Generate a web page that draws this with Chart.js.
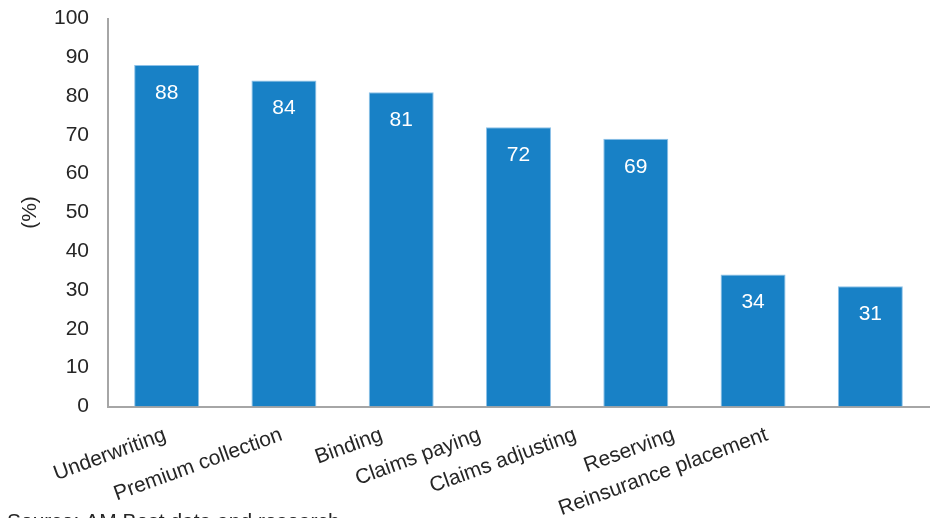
<!DOCTYPE html>
<html>
<head>
<meta charset="utf-8">
<script src="https://cdn.jsdelivr.net/npm/chart.js@4/dist/chart.umd.min.js"></script>
<style>
  html, body { margin: 0; padding: 0; background: #fff; overflow: hidden; }
  #wrap { position: relative; width: 932px; height: 518px; }
</style>
</head>
<body>
<div id="wrap"><canvas id="c" width="932" height="518"></canvas></div>
<script>
const categories = ["Underwriting", "Premium collection", "Binding", "Claims paying", "Claims adjusting", "Reserving", "Reinsurance placement"];
const values = [88, 84, 81, 72, 69, 34, 31];
const yTicks = [0, 10, 20, 30, 40, 50, 60, 70, 80, 90, 100];
const yTitle = "(%)";
const sourceNote = "Source: AM Best data and research";

const FONT = "'Liberation Sans', Arial, Helvetica, sans-serif";
const TEXT = "#262626";
const AXIS = "#a6a6a6";

// horizontal nudge for each rotated category label, relative to its tick
const labelShift = [-5, -6, -23, -42, -64, -83, -107];

const overlay = {
  id: 'overlay',
  afterDatasetsDraw(chart) {
    const ctx = chart.ctx;
    const meta = chart.getDatasetMeta(0);
    ctx.save();
    ctx.font = "21px " + FONT;
    ctx.fillStyle = "#ffffff";
    ctx.textAlign = "center";
    ctx.textBaseline = "middle";
    meta.data.forEach((bar, i) => {
      ctx.fillText(String(values[i]), bar.x, bar.y + 28);
    });
    ctx.restore();
  },
  afterDraw(chart) {
    const ctx = chart.ctx;
    const xs = chart.scales.x;
    ctx.save();
    ctx.font = "21px " + FONT;
    ctx.fillStyle = TEXT;
    ctx.textAlign = "right";
    ctx.textBaseline = "top";
    categories.forEach((c, i) => {
      const px = xs.getPixelForTick(i) + labelShift[i];
      const py = xs.top + 18;
      ctx.save();
      ctx.translate(px, py);
      ctx.rotate(-20 * Math.PI / 180);
      ctx.fillText(c, 0, 0);
      ctx.restore();
    });
    ctx.textAlign = "left";
    ctx.fillText(sourceNote, 7, 512);
    ctx.restore();
  }
};

new Chart(document.getElementById('c'), {
  type: 'bar',
  data: {
    labels: categories,
    datasets: [{
      data: values,
      backgroundColor: '#1881c6',
      borderColor: '#8cc1e8',
      borderWidth: 1,
      borderSkipped: 'bottom',
      barPercentage: 0.554,
      categoryPercentage: 1.0
    }]
  },
  options: {
    responsive: false,
    animation: false,
    devicePixelRatio: 1,
    layout: { padding: { top: 18.5, right: 3, left: 0, bottom: 0 } },
    plugins: { legend: { display: false }, tooltip: { enabled: false } },
    scales: {
      x: {
        grid: { display: false, drawTicks: false, tickLength: 0 },
        border: { display: true, color: AXIS, width: 2 },
        ticks: { display: false },
        afterFit: s => { s.height = 111.5; s.paddingLeft = 0; s.paddingRight = 0; }
      },
      y: {
        min: 0, max: 100,
        afterBuildTicks: s => { s.ticks = yTicks.map(v => ({ value: v })); },
        grid: { display: false, drawTicks: false, tickLength: 0 },
        border: { display: true, color: AXIS, width: 2 },
        ticks: { font: { size: 21, family: FONT }, color: TEXT, padding: 19 },
        title: { display: true, text: yTitle, font: { size: 21, family: FONT }, color: TEXT, padding: { top: 18, bottom: 0 } },
        afterFit: s => { s.width = 108; s.paddingTop = 0; s.paddingBottom = 0; }
      }
    }
  },
  plugins: [overlay]
});
</script>
</body>
</html>
